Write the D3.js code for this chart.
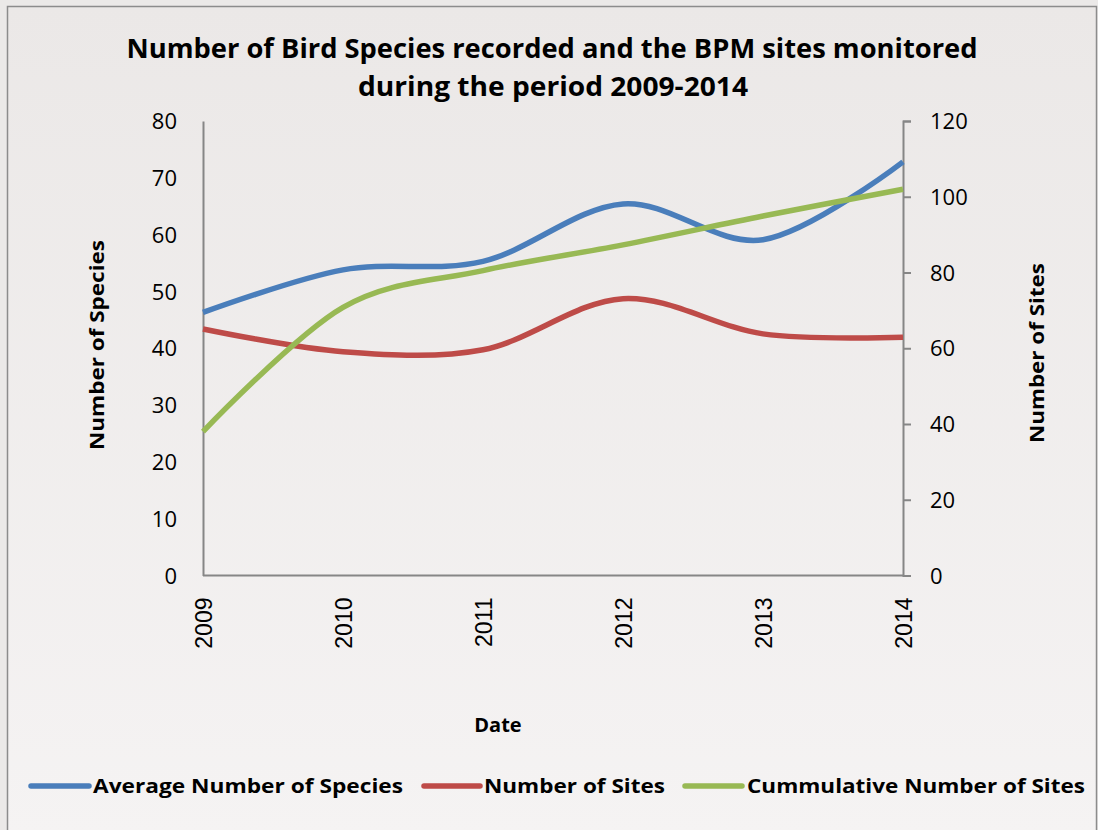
<!DOCTYPE html>
<html><head><meta charset="utf-8">
<script src="https://cdn.jsdelivr.net/npm/d3@7"></script>
<style>body{margin:0;background:#fff;} svg{display:block;}</style>
</head><body>
<svg id="c" width="1098" height="830"></svg>
<script>
const years = ["2009","2010","2011","2012","2013","2014"];
const avgSpecies = [46.3, 53.8, 55.3, 65.4, 59.1, 72.8];
const numSites = [65.1, 59.1, 59.6, 73.1, 63.8, 62.9];
const cumSites = [38.0, 70.8, 80.5, 87.3, 94.9, 102.0];
const leftTicks = [0,10,20,30,40,50,60,70,80];
const rightTicks = [0,20,40,60,80,100,120];
const seriesNames = ["Average Number of Species","Number of Sites","Cummulative Number of Sites"];
const colors = ["#4a7ebb","#be4b48","#98b954"];

const svg = d3.select("#c");
const defs = svg.append("defs");
const g = defs.append("linearGradient").attr("id","bg").attr("x1",0).attr("y1",0).attr("x2",0).attr("y2",1);
g.append("stop").attr("offset","0%").attr("stop-color","#ebe8e7");
g.append("stop").attr("offset","100%").attr("stop-color","#f5f3f3");
svg.append("rect").attr("x",0).attr("y",0).attr("width",1098).attr("height",830).attr("fill","#ebe9e8");
svg.append("rect").attr("x",7.5).attr("y",6.5).attr("width",1089).attr("height",830)
  .attr("fill","url(#bg)").attr("stroke","#8c8c8c").attr("stroke-width",1.5);

const L=203, R=903, T=121, B=575.5;
const x = d3.scalePoint().domain(years).range([L,R]);
const yL = d3.scaleLinear().domain([0,80]).range([B,T]);
const yR = d3.scaleLinear().domain([0,120]).range([B,T]);
const font = "'Open Sans', 'Liberation Sans', sans-serif";

function fitText(sel, w){ sel.each(function(){ const l=this.getComputedTextLength(); if(l>0) d3.select(this).attr("textLength",w).attr("lengthAdjust","spacingAndGlyphs"); }); }

// Left axis
const axL = svg.append("g").attr("transform",`translate(${L},0)`)
  .call(d3.axisLeft(yL).tickValues(leftTicks).tickSize(0).tickPadding(26));
axL.attr("font-size",null);
axL.select(".domain").attr("stroke","#868686").attr("stroke-width",2);
axL.selectAll("text").style("font-family",font).style("font-size","22px").attr("fill","#000").attr("dy","0.35em");

// Right axis
const axR = svg.append("g").attr("transform",`translate(${R},0)`)
  .call(d3.axisRight(yR).tickValues(rightTicks).tickSize(8).tickSizeOuter(8).tickPadding(19));
axR.attr("font-size",null);
axR.select(".domain").attr("stroke","#868686").attr("stroke-width",2);
axR.selectAll("line").attr("stroke","#868686").attr("stroke-width",2);
axR.selectAll("text").style("font-family",font).style("font-size","22px").attr("fill","#000").attr("dy","0.35em");

// Bottom axis
const axB = svg.append("g").attr("transform",`translate(0,${B})`)
  .call(d3.axisBottom(x).tickSize(0).tickPadding(0));
axB.attr("font-size",null);
axB.select(".domain").attr("stroke","#868686").attr("stroke-width",2).attr("d",`M${L},0H${R}`);
axB.selectAll("text").style("font-family","'Liberation Sans', Arial, sans-serif").style("font-size","23px").attr("fill","#000")
  .attr("transform","translate(0,22) rotate(-90)").attr("text-anchor","end").attr("dy","0.35em").attr("x",0).attr("y",0);

// Lines
const line = d3.line().curve(d3.curveCardinal.tension(0));
const data = [
  avgSpecies.map((v,i)=>[x(years[i]), yL(v)]),
  numSites.map((v,i)=>[x(years[i]), yR(v)]),
  cumSites.map((v,i)=>[x(years[i]), yR(v)])
];
data.forEach((d,i)=>{
  svg.append("path").attr("d",line(d)).attr("fill","none").attr("stroke",colors[i]).attr("stroke-width",5.5).attr("stroke-linecap","butt");
});

// Title
const t1 = svg.append("text").attr("x",552).attr("y",58).attr("text-anchor","middle")
  .attr("font-family",font).attr("font-weight","bold").attr("font-size",26).attr("fill","#000")
  .text("Number of Bird Species recorded and the BPM sites monitored");
fitText(t1, 851);
const t2 = svg.append("text").attr("x",553).attr("y",96).attr("text-anchor","middle")
  .attr("font-family",font).attr("font-weight","bold").attr("font-size",26).attr("fill","#000")
  .text("during the period 2009-2014");
fitText(t2, 390);

// Axis titles
const at1 = svg.append("text").attr("transform","translate(104,345) rotate(-90)").attr("text-anchor","middle")
  .attr("font-family",font).attr("font-weight","bold").attr("font-size",20).attr("fill","#000").text("Number of Species");
fitText(at1, 210);
const at2 = svg.append("text").attr("transform","translate(1044,353) rotate(-90)").attr("text-anchor","middle")
  .attr("font-family",font).attr("font-weight","bold").attr("font-size",20).attr("fill","#000").text("Number of Sites");
fitText(at2, 180);
svg.append("text").attr("x",498).attr("y",732).attr("text-anchor","middle")
  .attr("font-family",font).attr("font-weight","bold").attr("font-size",20).attr("fill","#000").text("Date");

// Legend
const legX = [[31,89,93,403],[424,480,484,665],[685,742,747,1085]];
seriesNames.forEach((n,i)=>{
  const [a,b,c,e] = legX[i];
  svg.append("line").attr("x1",a).attr("x2",b).attr("y1",786).attr("y2",786).attr("stroke",colors[i]).attr("stroke-width",5.5).attr("stroke-linecap","round");
  const tt = svg.append("text").attr("x",c).attr("y",793).attr("font-family",font).attr("font-weight","bold")
    .attr("font-size",20).attr("fill","#000").text(n);
  fitText(tt, e-c);
});
</script>
</body></html>
